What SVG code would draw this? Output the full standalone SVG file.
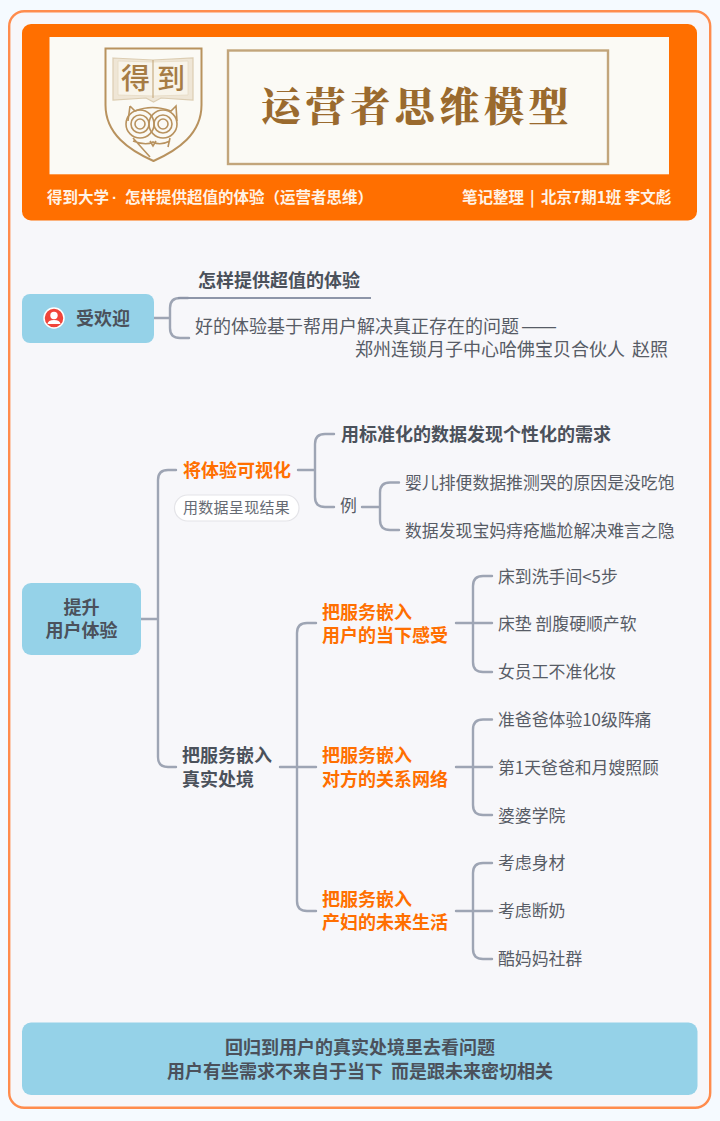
<svg xmlns="http://www.w3.org/2000/svg" width="720" height="1121" viewBox="0 0 720 1121">
<style>
text{font-family:"Noto Sans CJK SC","Noto Sans",sans-serif;fill:#4b515b}
.n{font-size:16.85px;fill:#575c66}
.q{font-size:18px;fill:#575c66}
.h{font-size:18px;font-weight:700}
.o{font-size:18px;font-weight:700;fill:#ff6f00}
.w{font-size:15.5px;font-weight:700;fill:#fff3e6}
.c{fill:none;stroke:#9ea5b4;stroke-width:2.4;stroke-linecap:round}
.l{fill:none;stroke:#b8925e;stroke-width:1.6}
.m{text-anchor:middle}
</style>
<rect width="720" height="1121" fill="#f5faff"/>
<rect x="9.2" y="11.2" width="701" height="1096.5" rx="15" fill="#f7f7fa" stroke="#ff8c4d" stroke-width="2.4"/>
<g id="header">
<rect x="22" y="24" width="675" height="196.500" rx="9" fill="#ff6f00"/>
<rect x="49.500" y="37" width="619.500" height="137.300" fill="#fbfaf5"/>
<path d="M105.500 48.500H201.500V105C201.500 134 178 150 153.500 161C129 150 105.500 134 105.500 105Z" fill="none" stroke="#b8925e" stroke-width="2"/>
<path d="M113 58L153 60L193 58V100L161 98L153.500 102L146 98L113 100Z" fill="#efe6d6" stroke="#dccdb2" stroke-width="1.200"/>
<path d="M118 61L153 62L188 61V95L153 96L118 95Z" fill="#f8f4ea" stroke="#e6dac4" stroke-width="0.800"/>
<path d="M153 60V98" fill="none" stroke="#c8ad84" stroke-width="1.200"/>
<text x="135.500" y="89" class="m" font-size="29" style="fill:#a67c45;font-weight:500">得</text>
<text x="171" y="89" class="m" font-size="28" style="fill:#a67c45;font-weight:500">到</text>
<path d="M130 106L135 111Q152 104 171 111L176 106L177 121M130 106L128 121" class="l"/>
<circle cx="140" cy="124" r="14" class="l"/><circle cx="140" cy="124" r="9" class="l"/><circle cx="140" cy="124" r="5" class="l"/>
<circle cx="163" cy="124" r="14" class="l"/><circle cx="163" cy="124" r="9" class="l"/><circle cx="163" cy="124" r="5" class="l"/>
<path d="M133 138L150 157M170 138L168 147M133 141Q146 146 153 142Q160 146 170 141M150 141L153 146L156 141" class="l"/>
<rect x="228" y="50.500" width="380" height="113.500" fill="none" stroke="#c2a57b" stroke-width="2.400"/>
<text x="261" y="120.500" font-size="40" letter-spacing="4.600" style="font-family:'Noto Serif CJK SC','Noto Sans CJK SC',sans-serif;font-weight:900;fill:#9a6a2e">运营者思维模型</text>
<text y="203" class="w"><tspan x="47">得到大学</tspan><tspan x="112" style="font-family:'Liberation Sans',sans-serif">·</tspan><tspan x="125">怎样提供超值的体验（运营者思维）</tspan></text>
<text y="203" class="w"><tspan x="462">笔记整理</tspan><tspan x="530">|</tspan><tspan x="541">北京7期1班 李文彪</tspan></text>
</g>
<g id="connectors">
<path class="c" d="M154 318H170M188 298H180Q170 298 170 308V328Q170 338 180 338H189"/>
<path d="M178 298H371" fill="none" stroke="#8d95a8" stroke-width="2.200"/>
<path class="c" d="M141 619H158M176 470H168Q158 470 158 480V757Q158 767 168 767H176"/>
<path class="c" d="M298 470H315M334 434H325Q315 434 315 444V497Q315 507 325 507H334"/>
<path class="c" d="M362 507H380M399 482.500H390Q380 482.500 380 492.500V520Q380 530 390 530H399"/>
<path class="c" d="M280 767H316M316 623H307Q297 623 297 633V901Q297 911 307 911H316"/>
<path class="c" d="M456 623H492M492 576H483Q473 576 473 586V662Q473 672 483 672H492"/>
<path class="c" d="M456 767H492M492 719.500H483Q473 719.500 473 729.500V805Q473 815 483 815H492"/>
<path class="c" d="M456 911H492M492 863H483Q473 863 473 873V949Q473 959 483 959H492"/>
</g>
<g id="node-welcome">
<rect x="22" y="294" width="132" height="49" rx="8" fill="#95d2e8"/>
<circle cx="54" cy="318" r="10" fill="#f0453a" stroke="#fff" stroke-width="1.500"/>
<circle cx="54" cy="315.500" r="3.700" fill="#fff"/>
<path d="M47.500 324Q48 320 54 320Q60 320 60.500 324Z" fill="#fff"/>
<text x="76" y="325" class="h">受欢迎</text>
</g>
<g id="node-title"><text x="198" y="287" class="h">怎样提供超值的体验</text></g>
<g id="node-quote">
<text x="195" y="333" class="q">好的体验基于帮用户解决真正存在的问题<tspan x="521" textLength="36" lengthAdjust="spacingAndGlyphs">——</tspan></text>
<text y="356" class="q"><tspan x="355">郑州连锁月子中心哈佛宝贝合伙人</tspan><tspan x="632">赵照</tspan></text>
</g>
<g id="node-root">
<rect x="22" y="583" width="119" height="72" rx="9" fill="#95d2e8"/>
<text x="81.500" y="613.500" class="h m">提升</text>
<text x="81.500" y="637" class="h m">用户体验</text>
</g>
<g id="node-visual">
<text x="183" y="477" class="o">将体验可视化</text>
<rect x="174.500" y="495" width="124.500" height="26" rx="13" fill="#fff" stroke="#e4e4e8" stroke-width="1.200"/>
<text x="236.500" y="513" font-size="15" class="m" letter-spacing="0.300" style="fill:#666b74">用数据呈现结果</text>
</g>
<g id="node-standard"><text x="341" y="441" class="h">用标准化的数据发现个性化的需求</text></g>
<g id="node-example"><text x="340" y="512" class="n">例</text></g>
<g id="node-ex1"><text x="405" y="489" class="n">婴儿排便数据推测哭的原因是没吃饱</text></g>
<g id="node-ex2"><text x="405" y="537" class="n">数据发现宝妈痔疮尴尬解决难言之隐</text></g>
<g id="node-embed">
<text x="182" y="762" class="h">把服务嵌入</text>
<text x="182" y="785.500" class="h">真实处境</text>
</g>
<g id="node-e1">
<text x="322" y="618.500" class="o">把服务嵌入</text>
<text x="322" y="642" class="o">用户的当下感受</text>
</g>
<g id="node-e2">
<text x="322" y="762" class="o">把服务嵌入</text>
<text x="322" y="785.500" class="o">对方的关系网络</text>
</g>
<g id="node-e3">
<text x="322" y="905.500" class="o">把服务嵌入</text>
<text x="322" y="929" class="o">产妇的未来生活</text>
</g>
<g id="node-a1"><text x="498" y="583" class="n">床到洗手间&lt;5步</text></g>
<g id="node-a2"><text x="498" y="630" class="n">床垫 剖腹硬顺产软</text></g>
<g id="node-a3"><text x="498" y="678" class="n">女员工不准化妆</text></g>
<g id="node-b1"><text x="498" y="726" class="n">准爸爸体验10级阵痛</text></g>
<g id="node-b2"><text x="498" y="773.500" class="n">第1天爸爸和月嫂照顾</text></g>
<g id="node-b3"><text x="498" y="821.500" class="n">婆婆学院</text></g>
<g id="node-c1"><text x="498" y="869" class="n">考虑身材</text></g>
<g id="node-c2"><text x="498" y="917" class="n">考虑断奶</text></g>
<g id="node-c3"><text x="498" y="965" class="n">酷妈妈社群</text></g>
<g id="footer">
<rect x="22" y="1022.500" width="675.500" height="72.500" rx="9" fill="#95d2e8"/>
<text x="360" y="1054" class="h m">回归到用户的真实处境里去看问题</text>
<text x="360" y="1077.500" class="h m" word-spacing="4">用户有些需求不来自于当下 而是跟未来密切相关</text>
</g>
</svg>
